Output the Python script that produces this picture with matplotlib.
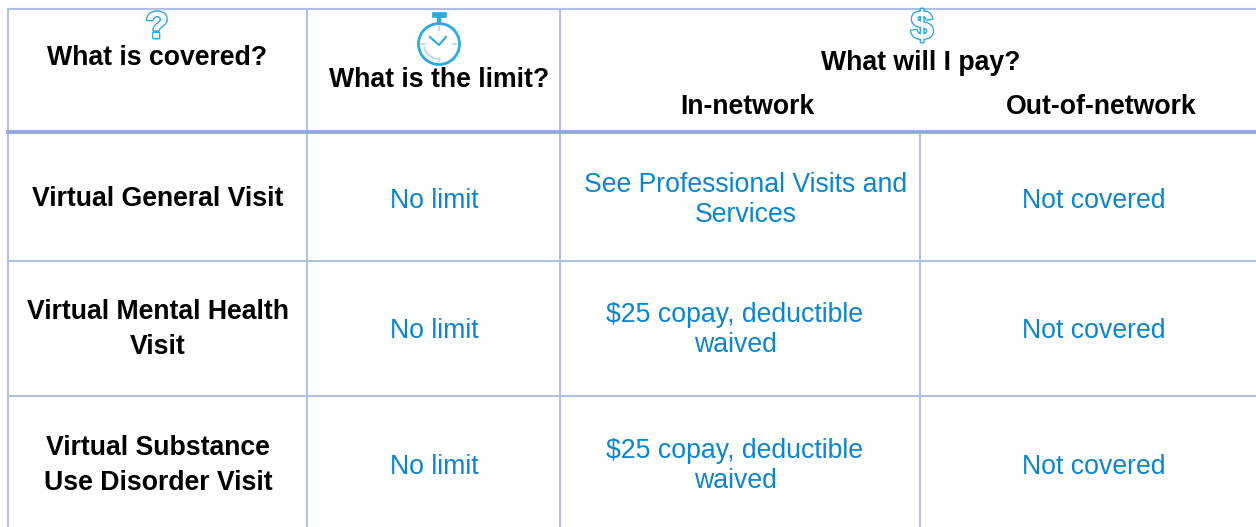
import matplotlib
matplotlib.use("Agg")
import matplotlib.pyplot as plt
import matplotlib.patheffects as pe
from matplotlib.patches import Arc, Circle, Rectangle
import numpy as np

# table content
covered = [["Virtual General Visit"], ["Virtual Mental Health", "Visit"], ["Virtual Substance", "Use Disorder Visit"]]
limits = ["No limit", "No limit", "No limit"]
in_network = [["See Professional Visits and", "Services"], ["$25 copay, deductible", "waived"], ["$25 copay, deductible", "waived"]]
out_network = ["Not covered", "Not covered", "Not covered"]

# layout in pixels
W, H = 1256, 527
col_x = [8, 307, 560, 920]
row_y = [132, 261, 396]
top_y = 9
row_mid = [199.5, 330.5, 466.5]
col_mid = [158, 434, 746, 1094]
line_gap = 17.5

GRID = "#aebfe3"
THICK = "#8faadc"
BLUE = "#0a86cf"
ICON = "#29aae3"
FS = 19.2

plt.rcParams["font.family"] = ["Liberation Sans", "DejaVu Sans"]
plt.rcParams["text.parse_math"] = False

fig = plt.figure(figsize=(W / 100, H / 100), dpi=100)
ax = fig.add_axes([0, 0, 1, 1])
ax.set_xlim(0, W)
ax.set_ylim(H, 0)
ax.axis("off")

# grid
ax.plot([8, W], [top_y, top_y], color=GRID, lw=1.5)
for x in col_x[:3]:
    ax.plot([x, x], [top_y, H], color=GRID, lw=1.4)
ax.plot([col_x[3], col_x[3]], [row_y[0], H], color=GRID, lw=1.4)
ax.plot([8, W], [row_y[0], row_y[0]], color=THICK, lw=2.8)
for y in row_y[1:]:
    ax.plot([8, W], [y, y], color=GRID, lw=1.4)

# header text
head = dict(ha="center", va="center", fontsize=FS, fontweight="bold", color="#000000")
ax.text(157, 58, "What is covered?", **head)
ax.text(439, 80, "What is the limit?", **head)
ax.text(921, 63, "What will I pay?", **head)
ax.text(747, 107, "In-network", **head)
ax.text(1101, 107, "Out-of-network", **head)

# icons
outline = [pe.withStroke(linewidth=2.2, foreground=ICON), pe.Normal()]
ax.text(157, 28, "?", ha="center", va="center", fontsize=27, fontweight="bold", color="white",
        path_effects=outline)
ax.text(922, 28, "$", ha="center", va="center", fontsize=29, fontweight="bold", color="white",
        path_effects=outline)

clock = (439, 44)
ax.add_patch(Circle(clock, 20.5, fill=False, ec=ICON, lw=2.0))
ax.add_patch(Rectangle((432, 12), 14, 5, fc=ICON, ec=ICON, lw=0.5))
ax.plot([439, 439], [16, 23], color=ICON, lw=3)
ax.plot([430, 439, 446], [37, 45, 37], color=ICON, lw=1.5)
for a in np.deg2rad([0, 90, 180, 270]):
    ax.plot([clock[0] + 14 * np.cos(a), clock[0] + 17 * np.cos(a)],
            [clock[1] + 14 * np.sin(a), clock[1] + 17 * np.sin(a)], color="#a8d8ef", lw=1.2)
ax.add_patch(Arc(clock, 30, 30, theta1=95, theta2=170, ec="#a8d8ef", lw=1.2))

# body cells
for i, y in enumerate(row_mid):
    lines = covered[i]
    for j, s in enumerate(lines):
        off = (j - (len(lines) - 1) / 2) * 2 * line_gap
        ax.text(col_mid[0], y - 1 + off, s, ha="center", va="center", fontsize=FS, fontweight="bold", color="black")
    ax.text(col_mid[1], y + 1, limits[i], ha="center", va="center", fontsize=FS, color=BLUE)
    lines = in_network[i]
    for j, s in enumerate(lines):
        off = (j - (len(lines) - 1) / 2) * 2 * 15
        ax.text(col_mid[2] if i == 0 else 735, y + off, s, ha="center", va="center", fontsize=FS, color=BLUE)
    ax.text(col_mid[3], y + 1, out_network[i], ha="center", va="center", fontsize=FS, color=BLUE)

fig.savefig("out.png", dpi=100)
plt.close()
